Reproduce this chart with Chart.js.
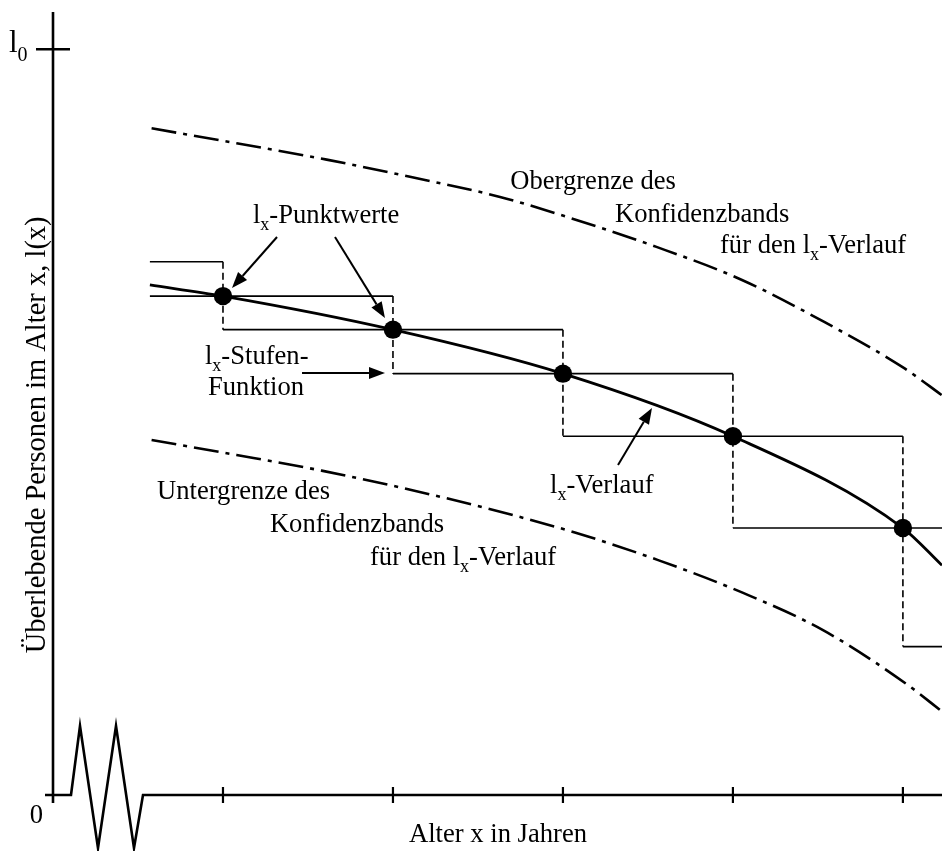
<!DOCTYPE html>
<html><head><meta charset="utf-8">
<script src="https://cdn.jsdelivr.net/npm/chart.js@4/dist/chart.umd.min.js"></script>
<style>html,body{margin:0;padding:0;background:#fff;overflow:hidden}#wrap{width:942px;height:851px;position:relative}</style>
</head><body><div id="wrap"><canvas id="c" width="942" height="851"></canvas></div>
<script>
// ---- data (age in years, survivors l(x) with l0 = 100) ----
const pointAges = [10, 20, 30, 40, 50];
const pointValues = [66.9, 62.4, 56.5, 48.1, 35.8];
const stepLeftValue = 71.5;   // level before first point (age 0)
const stepRightValue = 19.9;  // level after last point (age 60)
const stepAges = [0, 10, 20, 30, 40, 50, 60];
const stepValues = [stepLeftValue, ...pointValues, stepRightValue];
const curveAges = [5.7, 10, 20, 30, 40, 50, 52.3];
const curveValues = [68.4, 66.9, 62.4, 56.5, 48.1, 35.8, 30.8];
const upperAges = [5.8, 10.8, 16.1, 21.0, 26.3, 30.4, 35.5, 40.5, 45.4, 50.1, 52.3];
const upperValues = [89.4, 87.4, 85.2, 82.9, 80.2, 77.4, 73.5, 69.1, 63.4, 57.2, 53.6];
const lowerAges = [5.8, 10.8, 15.8, 20.7, 25.6, 30.7, 35.6, 40.6, 45.3, 50.2, 52.3];
const lowerValues = [47.6, 45.6, 43.5, 41.1, 38.4, 35.2, 31.5, 27.1, 22.1, 14.9, 11.2];
const xTicks = [10, 20, 30, 40, 50];
const yTicks = [100];
const yTickLabels = ['l{0}'];
const originLabel = '0';
const xTitle = 'Alter x in Jahren';
const yTitle = 'Überlebende Personen im Alter x, l(x)';
const X_MAX = 52.3, Y_MAX = 105;

// ---- build step function pieces from the data ----
const lineStart = curveAges[0];
function buildHorizontals() {
  const pts = [];
  const step = stepAges[1] - stepAges[0];
  for (let i = 0; i < stepAges.length; i++) {
    const a = i > 0 ? stepAges[i - 1] : stepAges[i] - step;
    const b = i < stepAges.length - 1 ? stepAges[i + 1] : stepAges[i] + step;
    const x0 = Math.max(a, lineStart), x1 = Math.min(b, X_MAX);
    if (x1 <= x0) continue;
    pts.push({x: x0, y: stepValues[i]}, {x: x1, y: stepValues[i]}, {x: x1, y: null});
  }
  return pts;
}
function buildVerticals() {
  const pts = [];
  for (let i = 1; i < stepAges.length - 1; i++) {
    if (stepAges[i] < lineStart || stepAges[i] > X_MAX) continue;
    pts.push({x: stepAges[i], y: stepValues[i - 1]}, {x: stepAges[i], y: stepValues[i + 1]}, {x: stepAges[i], y: null});
  }
  return pts;
}
const zip = (xs, ys) => xs.map((x, i) => ({x, y: ys[i]}));

// ---- annotations (data coordinates) ----
const labels = [
  {t: 'l{x}-Punktwerte', x: 11.76, y: 76.7},
  {t: 'l{x}-Stufen-', x: 8.94, y: 57.8},
  {t: 'Funktion', x: 9.12, y: 53.64},
  {t: 'l{x}-Verlauf', x: 29.24, y: 40.5},
  {t: 'Obergrenze des', x: 26.9, y: 81.2},
  {t: 'Konfidenzbands', x: 33.06, y: 76.84},
  {t: 'für den l{x}-Verlauf', x: 39.24, y: 72.68},
  {t: 'Untergrenze des', x: 6.12, y: 39.69},
  {t: 'Konfidenzbands', x: 12.76, y: 35.27},
  {t: 'für den l{x}-Verlauf', x: 18.65, y: 30.84}
];
const arrows = [
  [13.18, 74.83, 10.53, 67.99],
  [16.59, 74.83, 19.53, 63.97],
  [14.65, 56.59, 19.53, 56.59],
  [33.24, 44.25, 35.24, 51.9]
];

const FONT = '"Liberation Serif", "Times New Roman", serif';
const FS = 26.6;
function parseRich(t) {
  const parts = []; const re = /\{([^}]*)\}/g; let last = 0, m;
  while ((m = re.exec(t))) {
    if (m.index > last) parts.push({s: t.slice(last, m.index), sub: false});
    parts.push({s: m[1], sub: true}); last = re.lastIndex;
  }
  if (last < t.length) parts.push({s: t.slice(last), sub: false});
  return parts;
}
function drawRich(ctx, t, x, y, size, align) {
  const parts = parseRich(t);
  const sub = Math.round(size * 0.66);
  let w = 0;
  parts.forEach(p => { ctx.font = (p.sub ? sub : size) + 'px ' + FONT; p.w = ctx.measureText(p.s).width; w += p.w; });
  let cx = align === 'center' ? x - w / 2 : align === 'right' ? x - w : x;
  ctx.textAlign = 'left'; ctx.textBaseline = 'alphabetic';
  parts.forEach(p => {
    ctx.font = (p.sub ? sub : size) + 'px ' + FONT;
    ctx.fillText(p.s, cx, p.sub ? y + size * 0.27 : y);
    cx += p.w;
  });
}
function drawArrow(ctx, x1, y1, x2, y2) {
  const ang = Math.atan2(y2 - y1, x2 - x1), L = 16, H = 6;
  const bx = x2 - L * Math.cos(ang), by = y2 - L * Math.sin(ang);
  ctx.lineWidth = 2; ctx.setLineDash([]);
  ctx.beginPath(); ctx.moveTo(x1, y1); ctx.lineTo(bx, by); ctx.stroke();
  ctx.beginPath(); ctx.moveTo(x2, y2);
  ctx.lineTo(bx + H * Math.sin(ang), by - H * Math.cos(ang));
  ctx.lineTo(bx - H * Math.sin(ang), by + H * Math.cos(ang));
  ctx.closePath(); ctx.fill();
}

const decor = {
  id: 'decor',
  afterDraw(chart) {
    const ctx = chart.ctx, xs = chart.scales.x, ys = chart.scales.y;
    const X = v => xs.getPixelForValue(v), Y = v => ys.getPixelForValue(v);
    const ox = X(0), oy = Y(0), top = chart.chartArea.top, right = chart.chartArea.right;
    ctx.save();
    ctx.strokeStyle = '#000'; ctx.fillStyle = '#000'; ctx.lineCap = 'butt'; ctx.lineJoin = 'miter';
    // y axis
    ctx.lineWidth = 2.6;
    ctx.beginPath(); ctx.moveTo(ox, top); ctx.lineTo(ox, oy + 8); ctx.stroke();
    // y ticks
    yTicks.forEach((v, i) => {
      ctx.beginPath(); ctx.moveTo(ox - 17, Y(v)); ctx.lineTo(ox + 17, Y(v)); ctx.stroke();
      drawRich(ctx, yTickLabels[i], ox - 44, Y(v) + 3, 31, 'left');
    });
    // x axis with break
    ctx.beginPath();
    ctx.moveTo(ox - 8, oy); ctx.lineTo(ox + 18, oy);
    ctx.lineTo(ox + 27, oy - 69); ctx.lineTo(ox + 45, oy + 53);
    ctx.lineTo(ox + 63, oy - 69); ctx.lineTo(ox + 81, oy + 53);
    ctx.lineTo(ox + 90, oy); ctx.lineTo(right, oy);
    ctx.stroke();
    ctx.lineWidth = 2.2;
    xTicks.forEach(v => { ctx.beginPath(); ctx.moveTo(X(v), oy - 8); ctx.lineTo(X(v), oy + 8); ctx.stroke(); });
    // origin label
    drawRich(ctx, originLabel, ox - 10, oy + 28, FS, 'right');
    // axis titles
    drawRich(ctx, xTitle, X(26.18), oy + 47, FS, 'center');
    ctx.save();
    ctx.translate(ox - 8, Y(48.3)); ctx.rotate(-Math.PI / 2);
    drawRich(ctx, yTitle, 0, 0, 28.5, 'center');
    ctx.restore();
    // labels
    labels.forEach(l => drawRich(ctx, l.t, X(l.x), Y(l.y), FS, 'left'));
    arrows.forEach(a => drawArrow(ctx, X(a[0]), Y(a[1]), X(a[2]), Y(a[3])));
    ctx.restore();
  }
};

const BAND_DASH = [25, 7, 4, 7];
new Chart(document.getElementById('c'), {
  type: 'scatter',
  data: {
    datasets: [
      {data: zip(pointAges, pointValues), showLine: false, pointRadius: 9.2, pointBackgroundColor: '#000', pointBorderWidth: 0},
      {data: zip(curveAges, curveValues), showLine: true, borderColor: '#000', borderWidth: 2.8, cubicInterpolationMode: 'monotone', pointRadius: 0},
      {data: buildHorizontals(), showLine: true, spanGaps: false, borderColor: '#000', borderWidth: 1.6, pointRadius: 0},
      {data: buildVerticals(), showLine: true, spanGaps: false, borderColor: '#000', borderWidth: 1.6, borderDash: [7, 4], pointRadius: 0},
      {data: zip(upperAges, upperValues), showLine: true, borderColor: '#000', borderWidth: 2.6, borderDash: BAND_DASH, cubicInterpolationMode: 'monotone', pointRadius: 0},
      {data: zip(lowerAges, lowerValues), showLine: true, borderColor: '#000', borderWidth: 2.6, borderDash: BAND_DASH, cubicInterpolationMode: 'monotone', pointRadius: 0}
    ]
  },
  options: {
    responsive: false, animation: false, devicePixelRatio: 1, events: [],
    layout: {autoPadding: false, padding: {left: 53, top: 12, right: 0, bottom: 56}},
    plugins: {legend: {display: false}, tooltip: {enabled: false}},
    scales: {
      x: {type: 'linear', min: 0, max: X_MAX, display: false},
      y: {type: 'linear', min: 0, max: Y_MAX, display: false}
    }
  },
  plugins: [decor]
});
</script>
</body></html>
